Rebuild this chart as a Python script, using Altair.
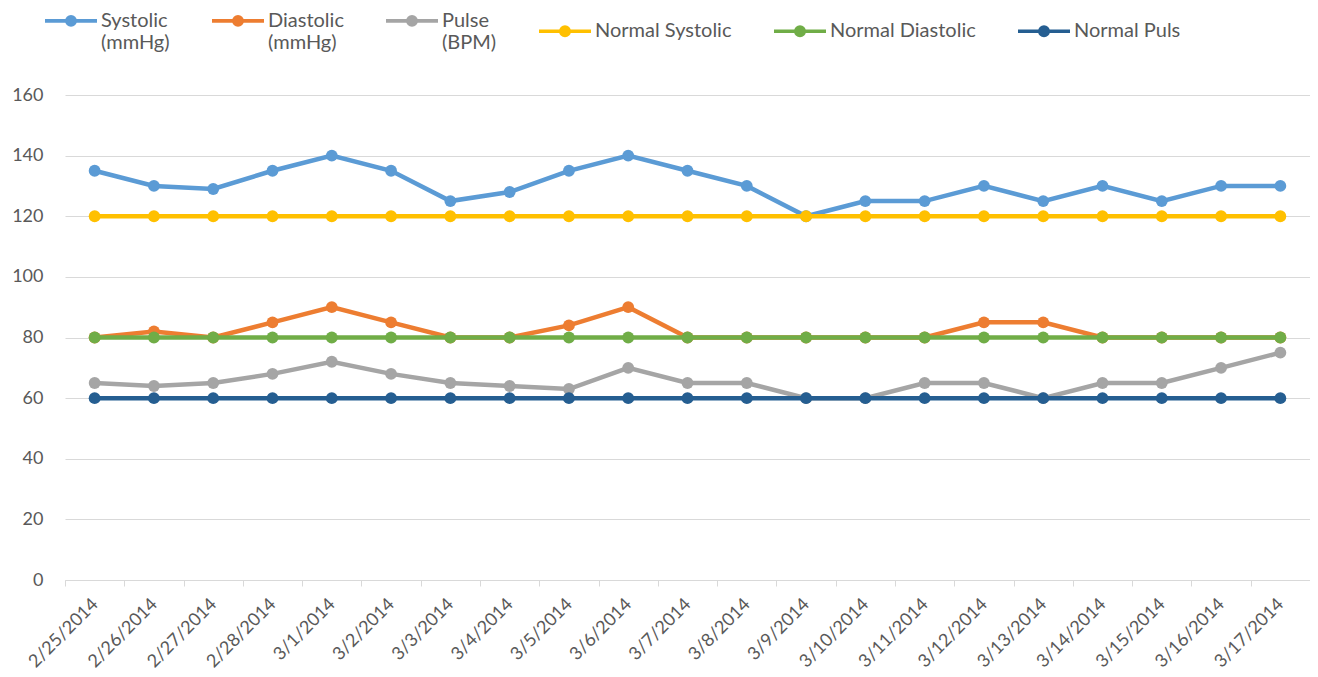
import altair as alt
import pandas as pd

dates = ["2/25/2014", "2/26/2014", "2/27/2014", "2/28/2014", "3/1/2014", "3/2/2014",
         "3/3/2014", "3/4/2014", "3/5/2014", "3/6/2014", "3/7/2014", "3/8/2014",
         "3/9/2014", "3/10/2014", "3/11/2014", "3/12/2014", "3/13/2014", "3/14/2014",
         "3/15/2014", "3/16/2014", "3/17/2014"]

systolic = [135, 130, 129, 135, 140, 135, 125, 128, 135, 140, 135, 130, 120, 125, 125, 130, 125, 130, 125, 130, 130]
diastolic = [80, 82, 80, 85, 90, 85, 80, 80, 84, 90, 80, 80, 80, 80, 80, 85, 85, 80, 80, 80, 80]
pulse = [65, 64, 65, 68, 72, 68, 65, 64, 63, 70, 65, 65, 60, 60, 65, 65, 60, 65, 65, 70, 75]
normal_systolic = [120, 120, 120, 120, 120, 120, 120, 120, 120, 120, 120, 120, 120, 120, 120, 120, 120, 120, 120, 120, 120]
normal_diastolic = [80, 80, 80, 80, 80, 80, 80, 80, 80, 80, 80, 80, 80, 80, 80, 80, 80, 80, 80, 80, 80]
normal_pulse = [60, 60, 60, 60, 60, 60, 60, 60, 60, 60, 60, 60, 60, 60, 60, 60, 60, 60, 60, 60, 60]

series_names = ["Systolic|(mmHg)", "Diastolic|(mmHg)", "Pulse|(BPM)",
                "Normal Systolic", "Normal Diastolic", "Normal Puls"]
series_values = [systolic, diastolic, pulse, normal_systolic, normal_diastolic, normal_pulse]
series_colors = ["#5B9BD5", "#ED7D31", "#A5A5A5", "#FFC000", "#70AD47", "#255E91"]
y_ticks = [0, 20, 40, 60, 80, 100, 120, 140, 160]

rows = []
for name, vals in zip(series_names, series_values):
    for d, v in zip(dates, vals):
        rows.append({"date": d, "value": v, "series": name})
df = pd.DataFrame(rows)

FONT = "Lato"
TXT = "#595959"
GRID = "#d9d9d9"

# legend symbol: line with a dot (dot made from stroked concentric circles)
dy = 0.38
legend_symbol = (
    f"M-1 {dy}H1 "
    f"M0.06 {dy}A0.06 0.06 0 1 1 -0.06 {dy}A0.06 0.06 0 1 1 0.06 {dy} "
    f"M0.16 {dy}A0.16 0.16 0 1 1 -0.16 {dy}A0.16 0.16 0 1 1 0.16 {dy}"
)

x_enc = alt.X(
    "date:N", sort=dates, title=None,
    scale=alt.Scale(type="band", paddingInner=0, paddingOuter=0),
    axis=alt.Axis(labelAngle=-45, tickBand="extent", tickSize=6, tickColor=GRID,
                  domainColor=GRID, labelPadding=9, labelOffset=-6, grid=False,
                  labelFontSize=18, labelFont=FONT, labelColor=TXT),
)
y_enc = alt.Y(
    "value:Q", title=None,
    scale=alt.Scale(domain=[0, 160], nice=False),
    axis=alt.Axis(values=y_ticks, domain=False, ticks=False, tickSize=0, labelPadding=22,
                  gridColor=GRID, labelFontSize=18, labelFont=FONT, labelColor=TXT),
)
color_scale = alt.Scale(domain=series_names, range=series_colors)

legend = alt.Legend(
    orient="none", legendX=-22, legendY=-112, direction="horizontal", columns=6,
    columnPadding=34, symbolType=legend_symbol, symbolSize=2704, symbolStrokeWidth=3.6,
    labelOffset=2, labelFontSize=20, labelFont=FONT, labelColor=TXT, labelBaseline="top",
    labelLimit=400, title=None, labelExpr="split(datum.label, '|')",
)

layers = []
for i, name in enumerate(series_names):
    base = alt.Chart(df).transform_filter(alt.datum.series == name)
    line = base.mark_line(strokeWidth=4.5).encode(
        x=x_enc, y=y_enc,
        color=alt.Color("series:N", scale=color_scale, legend=legend if i == 0 else None),
    )
    pts = base.mark_circle(size=140, opacity=1).encode(
        x=x_enc, y=y_enc,
        color=alt.Color("series:N", scale=color_scale, legend=None),
    )
    layers += [line, pts]

chart = alt.layer(*layers).properties(
    width=1245, height=485,
    autosize=alt.AutoSizeParams(type="none"),
    padding={"left": 57, "top": 87, "right": 0, "bottom": 92},
).configure_view(stroke=None)

chart.save("out.html", embed_options={"renderer": "svg", "actions": False})
